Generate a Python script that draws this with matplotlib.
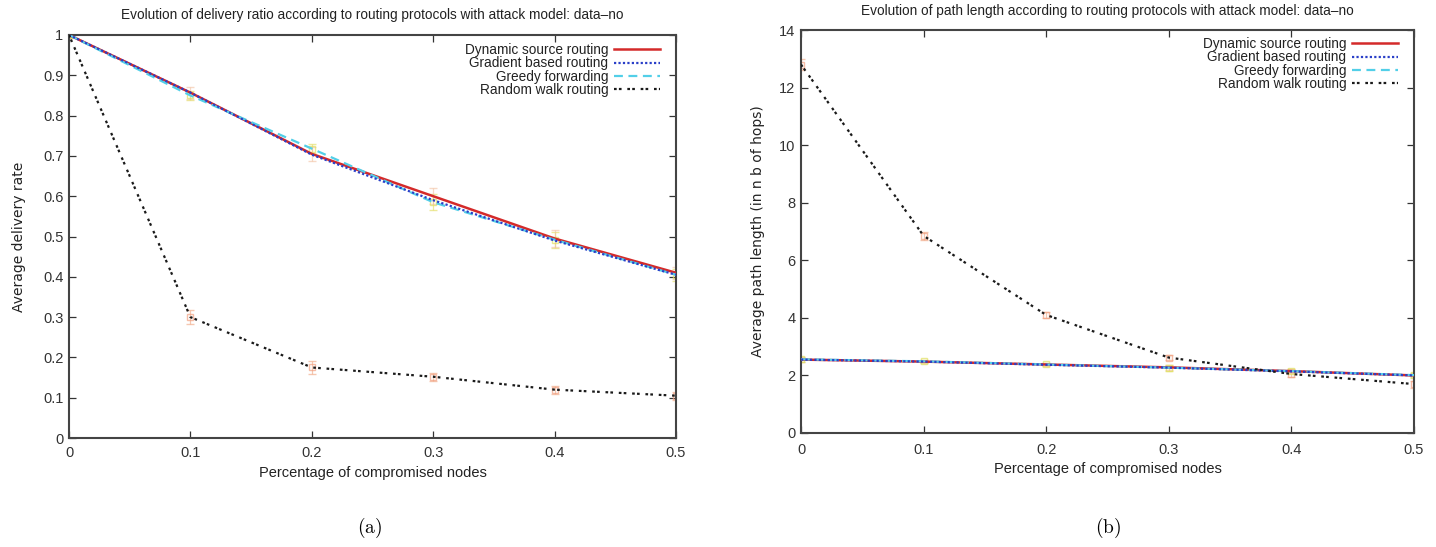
import matplotlib
matplotlib.use("Agg")
import matplotlib.pyplot as plt
import numpy as np

plt.rcParams['font.family'] = ['Liberation Sans Narrow', 'Liberation Sans', 'DejaVu Sans']
plt.rcParams['mathtext.fontset'] = 'cm'

# ---- data ----
x_vals = [0.0, 0.1, 0.2, 0.3, 0.4, 0.5]
series_names = ["Dynamic source routing", "Gradient based routing",
                "Greedy forwarding", "Random walk routing"]

# (a) delivery ratio
dsr_delivery = [1.0, 0.857, 0.705, 0.600, 0.495, 0.410]
grad_delivery = [1.0, 0.857, 0.703, 0.590, 0.490, 0.405]
greedy_delivery = [1.0, 0.850, 0.718, 0.585, 0.492, 0.405]
rw_delivery = [1.0, 0.300, 0.175, 0.152, 0.120, 0.105]
dsr_delivery_err = [0.005, 0.015, 0.018, 0.02, 0.02, 0.015]
greedy_delivery_err = [0.005, 0.012, 0.012, 0.02, 0.02, 0.015]
rw_delivery_err = [0.005, 0.018, 0.015, 0.01, 0.01, 0.01]

# (b) path length
dsr_path = [2.55, 2.48, 2.38, 2.28, 2.15, 2.00]
grad_path = [2.55, 2.48, 2.37, 2.27, 2.14, 2.00]
greedy_path = [2.56, 2.49, 2.38, 2.27, 2.15, 2.01]
rw_path = [12.80, 6.85, 4.10, 2.62, 2.05, 1.70]
dsr_path_err = [0.08, 0.06, 0.06, 0.08, 0.08, 0.08]
greedy_path_err = [0.08, 0.06, 0.06, 0.1, 0.08, 0.08]
rw_path_err = [0.2, 0.15, 0.1, 0.1, 0.1, 0.12]

x_ticks = [0, 0.1, 0.2, 0.3, 0.4, 0.5]
x_tick_labels = ["0", "0.1", "0.2", "0.3", "0.4", "0.5"]
ya_ticks = [0, 0.1, 0.2, 0.3, 0.4, 0.5, 0.6, 0.7, 0.8, 0.9, 1]
ya_tick_labels = ["0", "0.1", "0.2", "0.3", "0.4", "0.5", "0.6", "0.7", "0.8", "0.9", "1"]
yb_ticks = [0, 2, 4, 6, 8, 10, 12, 14]
yb_tick_labels = ["0", "2", "4", "6", "8", "10", "12", "14"]

title_a = "Evolution of delivery ratio according to routing protocols with attack model: data\u2013no"
title_b = "Evolution of path length according to routing protocols with attack model: data\u2013no"
xlabel = "Percentage of compromised nodes"
ylabel_a = "Average delivery rate"
ylabel_b = "Average path length (in n b of hops)"

# ---- styles ----
c_dsr = "#d42a2a"
c_grad = "#2a3fc8"
c_greedy = "#52cfe8"
c_rw = "#1a1a1a"
rw_dash = (0, (1.2, 1.0, 1.2, 2.6))

W, H = 1436, 547
fig = plt.figure(figsize=(W / 100, H / 100), dpi=100)

def px_axes(l, r, t, b):
    return fig.add_axes([l / W, 1 - b / H, (r - l) / W, (b - t) / H])

ax1 = px_axes(69, 676, 35, 438)
ax2 = px_axes(801, 1414, 30, 433)

def draw(ax, dsr, grad, greedy, rw, e_dsr, e_greedy, e_rw):
    ax.errorbar(x_vals, rw, yerr=e_rw, fmt='s', ms=5, mfc='none', mec='#f2a080',
                ecolor='#f2b090', elinewidth=0.9, capsize=3, alpha=0.7, zorder=2)
    ax.errorbar(x_vals, greedy, yerr=e_greedy, fmt='s', ms=4, mfc='none', mec='#e0e060',
                ecolor='#e6e070', elinewidth=0.9, capsize=3, alpha=0.7, zorder=2)
    ax.errorbar(x_vals, dsr, yerr=e_dsr, fmt='none',
                ecolor='#f2c0a0', elinewidth=0.9, capsize=3, alpha=0.6, zorder=2)
    ax.plot(x_vals, dsr, color=c_dsr, lw=1.8, label=series_names[0], zorder=3)
    ax.plot(x_vals, grad, color=c_grad, lw=1.6, ls=(0, (1, 1)), label=series_names[1], zorder=4)
    ax.plot(x_vals, greedy, color=c_greedy, lw=1.6, ls=(0, (4, 2.5)), label=series_names[2], zorder=3)
    ax.plot(x_vals, rw, color=c_rw, lw=1.6, ls=rw_dash, label=series_names[3], zorder=4)

draw(ax1, dsr_delivery, grad_delivery, greedy_delivery, rw_delivery,
     dsr_delivery_err, greedy_delivery_err, rw_delivery_err)
draw(ax2, dsr_path, grad_path, greedy_path, rw_path,
     dsr_path_err, greedy_path_err, rw_path_err)

for ax, yt, ytl, ylim, title, ylab, title_ypx, xlpad, xtpad, ylpad, legtop in [
        (ax1, ya_ticks, ya_tick_labels, (0, 1), title_a, ylabel_a, 15, 4, 6, 12, 8),
        (ax2, yb_ticks, yb_tick_labels, (0, 14), title_b, ylabel_b, 11, 4, 7, 10, 7)]:
    ax.set_xlim(0, 0.5)
    ax.set_ylim(*ylim)
    ax.set_xticks(x_ticks)
    ax.set_xticklabels(x_tick_labels)
    ax.set_yticks(yt)
    ax.set_yticklabels(ytl)
    ax.tick_params(direction='in', length=5, width=0.9, top=True, right=True,
                   labelsize=10.5, colors='#333333')
    ax.tick_params(axis='x', pad=xtpad)
    ax.tick_params(axis='y', pad=4)
    for s in ax.spines.values():
        s.set_linewidth(1.5)
        s.set_color('#444444')
    bb = ax.get_position()
    fig.text((bb.x0 + bb.x1) / 2, 1 - title_ypx / H, title, ha='center', va='center',
             fontsize=9.8, color='#222222')
    ax.set_xlabel(xlabel, fontsize=10.5, color='#222222', labelpad=xlpad)
    ax.set_ylabel(ylab, fontsize=10, color='#222222', family='DejaVu Sans', labelpad=ylpad)
    hpx = bb.height * H
    wpx = bb.width * W
    leg = ax.legend(loc='upper right', frameon=False, markerfirst=False, fontsize=9.8,
                    handlelength=3.4, handletextpad=0.4, labelspacing=-0.05,
                    borderaxespad=0, borderpad=0,
                    bbox_to_anchor=(1 - 16 / wpx, 1 - legtop / hpx))
    for t in leg.get_texts():
        t.set_color('#222222')

fig.text(370 / W, 1 - 528 / H, r"$\mathrm{(a)}$", ha='center', va='center', fontsize=14)
fig.text(1108 / W, 1 - 528 / H, r"$\mathrm{(b)}$", ha='center', va='center', fontsize=14)

fig.savefig("out.png", dpi=100)
